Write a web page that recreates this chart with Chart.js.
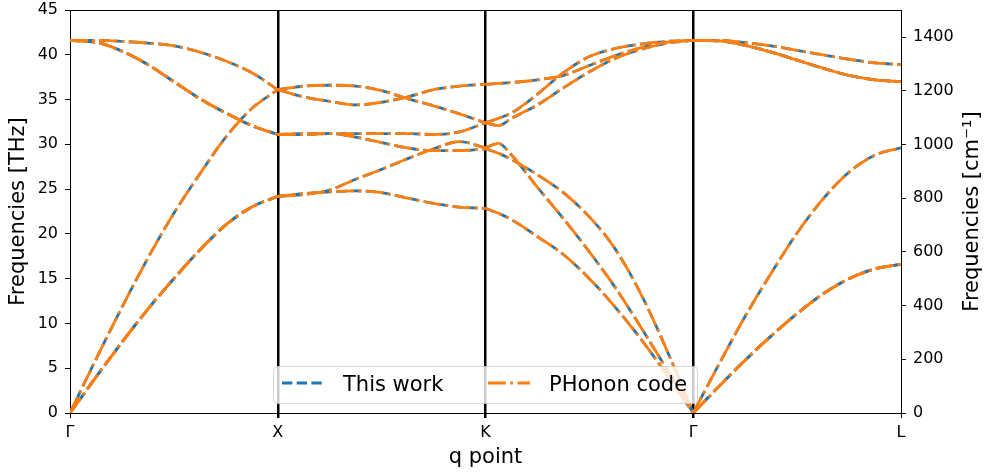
<!DOCTYPE html>
<html>
<head>
<meta charset="utf-8">
<script src="https://cdn.jsdelivr.net/npm/chart.js@4.4.1/dist/chart.umd.min.js"></script>
<style>
  html, body { margin: 0; padding: 0; background: #fff; }
  #wrap { width: 987px; height: 476px; }
</style>
</head>
<body>
<div id="wrap"><canvas id="chart" width="987" height="476"></canvas></div>
<script>
// high symmetry path, one x unit per segment
const qLabels = ['Γ', 'X', 'K', 'Γ', 'L'];
const qStd = [0, 0.125, 0.25, 0.375, 0.5, 0.625, 0.75, 0.875, 1];
const qKG = [0, 0.0625, 0.125, 0.25, 0.375, 0.5, 0.625, 0.75, 0.875, 1];

// frequencies in THz
// Γ -> X
const gxLO = [41.6, 41.6, 41.5, 41.3, 41.0, 40.3, 39.3, 38.0, 36.1];
const gxTO = [41.6, 41.4, 40.4, 38.9, 37.0, 35.1, 33.5, 32.1, 31.1];
const gxLA = [0, 6.0, 11.8, 17.3, 22.3, 26.7, 30.8, 34.0, 36.1];
const gxTA = [0, 4.0, 7.9, 11.6, 15.0, 18.2, 21.0, 23.0, 24.2];
// X -> K
const xk1 = [36.1, 36.5, 36.6, 36.5, 36.0, 35.1, 34.3, 33.4, 32.4];
const xk2 = [36.1, 35.3, 34.8, 34.4, 34.7, 35.3, 36.1, 36.5, 36.7];
const xk3 = [31.1, 31.2, 31.2, 31.2, 31.2, 31.2, 31.1, 31.4, 32.4];
const xk4 = [31.1, 31.1, 31.2, 30.8, 30.2, 29.6, 29.3, 29.3, 29.5];
const xk5 = [24.2, 24.4, 24.9, 26.1, 27.2, 28.4, 29.5, 30.3, 29.6];
const xk6 = [24.2, 24.5, 24.7, 24.8, 24.6, 24.0, 23.4, 23.0, 22.85];
// K -> Γ
const kg1 = [36.7, 36.8, 36.9, 37.2, 37.7, 38.8, 39.9, 40.8, 41.4, 41.6];
const kg2 = [32.4, 32.9, 33.5, 35.6, 38.0, 39.8, 40.7, 41.2, 41.5, 41.6];
const kg3 = [32.4, 32.1, 32.9, 34.4, 36.3, 38.1, 39.6, 40.6, 41.3, 41.6];
const kg4 = [29.6, 30.1, 28.8, 25.2, 21.7, 18.0, 14.0, 9.5, 4.8, 0];
const kg5 = [29.5, 29.0, 28.3, 26.6, 24.6, 21.9, 18.3, 13.2, 6.9, 0];
const kg6 = [22.85, 22.3, 21.6, 19.7, 17.7, 15.0, 11.8, 8.2, 4.2, 0];
// Γ -> L
const glLO = [41.6, 41.6, 41.35, 41.0, 40.5, 40.0, 39.5, 39.1, 38.9];
const glTO = [41.6, 41.55, 41.05, 40.3, 39.4, 38.5, 37.7, 37.2, 37.0];
const glLA = [0, 5.5, 10.8, 15.6, 20.1, 23.9, 26.9, 28.8, 29.6];
const glTA = [0, 3.0, 5.9, 8.6, 11.1, 13.3, 15.0, 16.1, 16.6];

const segments = [
    { start: 0, q: qStd, bands: [gxLO, gxTO, gxTO, gxLA, gxTA, gxTA] },
    { start: 1, q: qStd, bands: [xk1, xk2, xk3, xk4, xk5, xk6] },
    { start: 2, q: qKG, bands: [kg1, kg2, kg3, kg4, kg5, kg6] },
    { start: 3, q: qStd, bands: [glLO, glTO, glTO, glLA, glTA, glTA] }
];
// degenerate pairs whose dashes interleave and look solid in the original
const shiftedPairs = [glTO];

const THz2cm = 33.356;
const yMax = 45;
const rightTicks = [0, 200, 400, 600, 800, 1000, 1200, 1400];

const BLUE = '#1f77b4';
const ORANGE = '#ff7f0e';
const LW = 2.8;
const dashBlue = [10.3, 4.4];
const dashOrange = [17.8, 4.4, 2.8, 4.4];

function makeDatasets(color, dash, order) {
    var out = [];
    segments.forEach(function (seg) {
        seg.bands.forEach(function (band, bi) {
            var pts = [];
            for (var i = 0; i < band.length; i++) {
                pts.push({ x: seg.start + seg.q[i], y: band[i] });
            }
            var dup = bi > 0 && seg.bands[bi - 1] === band && shiftedPairs.indexOf(band) >= 0;
            out.push({
                data: pts,
                borderColor: color,
                borderWidth: LW,
                borderDash: dash,
                borderDashOffset: dup ? 13 : 0,
                pointRadius: 0,
                cubicInterpolationMode: 'monotone',
                fill: false,
                order: order
            });
        });
    });
    return out;
}

const datasets = makeDatasets(ORANGE, dashOrange, 0).concat(makeDatasets(BLUE, dashBlue, 1));

// keep the plot box where the original has it
function noLabelPadding(s) {
    s.paddingTop = 0;
    s.paddingBottom = 0;
    s.paddingLeft = 0;
    s.paddingRight = 0;
}

const extras = {
    id: 'extras',
    afterDraw(chart) {
        const ctx = chart.ctx;
        const a = chart.chartArea;
        ctx.save();
        // top spine
        ctx.strokeStyle = '#000';
        ctx.lineWidth = 1;
        ctx.beginPath();
        ctx.moveTo(a.left, a.top + 0.5);
        ctx.lineTo(a.right, a.top + 0.5);
        ctx.stroke();

        // legend
        ctx.fillStyle = 'rgba(255,255,255,0.8)';
        ctx.strokeStyle = 'rgba(204,204,204,0.8)';
        ctx.lineWidth = 1;
        ctx.beginPath();
        ctx.roundRect(273.5, 366.5, 424, 37, 4);
        ctx.fill();
        ctx.stroke();

        ctx.lineWidth = LW;
        ctx.strokeStyle = BLUE;
        ctx.setLineDash(dashBlue);
        ctx.beginPath();
        ctx.moveTo(282, 383);
        ctx.lineTo(324, 383);
        ctx.stroke();

        ctx.strokeStyle = ORANGE;
        ctx.setLineDash(dashOrange);
        ctx.beginPath();
        ctx.moveTo(488, 383);
        ctx.lineTo(530, 383);
        ctx.stroke();
        ctx.setLineDash([]);

        ctx.fillStyle = '#000';
        ctx.font = '21px "DejaVu Sans"';
        ctx.textBaseline = 'alphabetic';
        ctx.textAlign = 'left';
        ctx.fillText('This work', 343, 391);
        ctx.fillText('PHonon code', 549, 391);

        // right axis title, reads bottom to top like the left one
        ctx.translate(973, (a.top + a.bottom) / 2);
        ctx.rotate(-Math.PI / 2);
        ctx.textAlign = 'center';
        ctx.textBaseline = 'middle';
        ctx.fillText('Frequencies [cm⁻¹]', 0, 0);
        ctx.restore();
    }
};

Chart.defaults.font.family = '"DejaVu Sans"';
Chart.defaults.color = '#000';

new Chart(document.getElementById('chart').getContext('2d'), {
    type: 'line',
    data: { datasets: datasets },
    plugins: [extras],
    options: {
        responsive: false,
        animation: false,
        layout: { padding: { top: 10, left: 0, right: 0, bottom: 0 } },
        plugins: { legend: { display: false }, tooltip: { enabled: false } },
        scales: {
            x: {
                type: 'linear',
                min: 0,
                max: 4,
                afterBuildTicks: function (s) { s.ticks = [0, 1, 2, 3, 4].map(function (v) { return { value: v }; }); },
                afterFit: function (s) { s.height = 63; noLabelPadding(s); },
                ticks: {
                    autoSkip: false,
                    maxRotation: 0,
                    padding: 5,
                    font: { size: 16 },
                    callback: function (v, i) { return qLabels[i]; }
                },
                grid: {
                    color: '#000',
                    lineWidth: function (c) {
                        var v = c.tick ? c.tick.value : 0;
                        return (v > 0 && v < 4) ? 2.5 : 1;
                    },
                    tickLength: 5
                },
                border: { display: true, color: '#000', width: 1 },
                title: { display: true, text: 'q point', font: { size: 21 }, padding: { top: 0, bottom: 6 } }
            },
            y: {
                position: 'left',
                min: 0,
                max: yMax,
                afterFit: function (s) { s.width = 70; noLabelPadding(s); },
                ticks: { stepSize: 5, padding: 7, font: { size: 16 } },
                grid: { drawOnChartArea: false, color: '#000', tickLength: 5 },
                border: { display: true, color: '#000', width: 1 },
                title: { display: true, text: 'Frequencies [THz]', font: { size: 21 }, padding: { top: 6, bottom: 0 } }
            },
            yR: {
                position: 'right',
                min: 0,
                max: yMax * THz2cm,
                afterBuildTicks: function (s) { s.ticks = rightTicks.map(function (v) { return { value: v }; }); },
                afterFit: function (s) { s.width = 86; noLabelPadding(s); },
                ticks: { padding: 7, font: { size: 16 }, callback: function (v) { return String(v); } },
                grid: { drawOnChartArea: false, color: '#000', tickLength: 5 },
                border: { display: true, color: '#000', width: 1 }
            }
        }
    }
});
</script>
</body>
</html>
